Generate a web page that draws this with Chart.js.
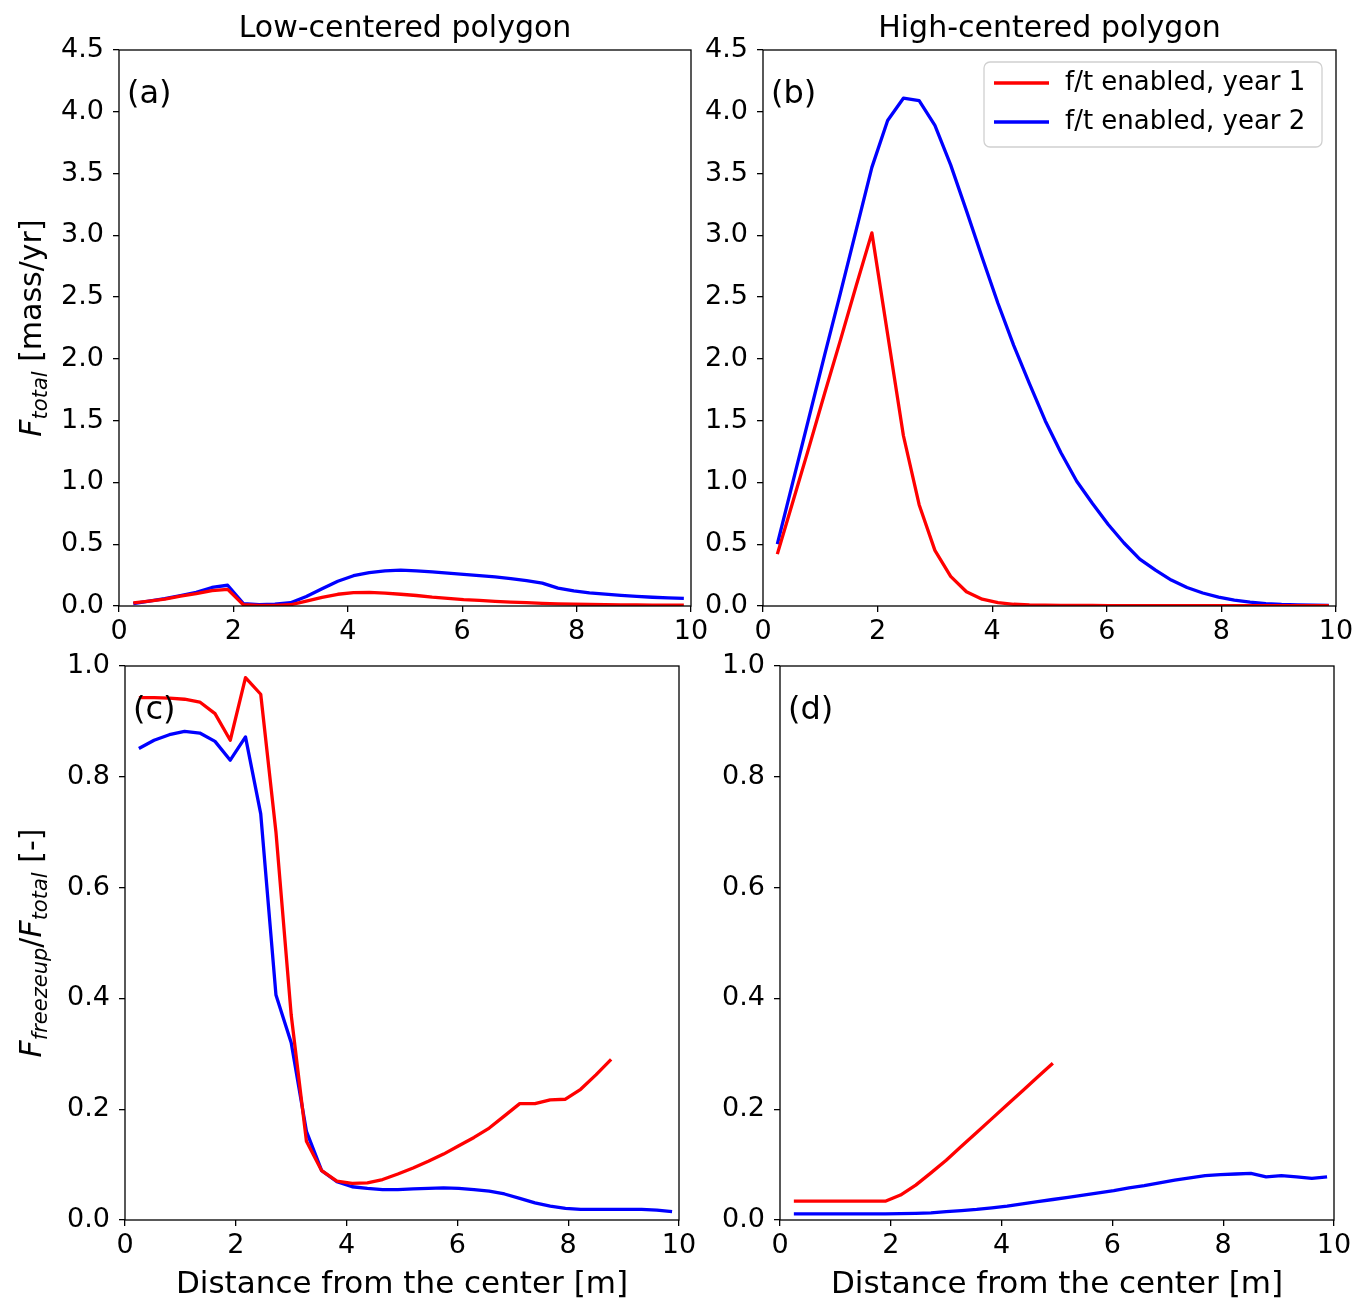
<!DOCTYPE html>
<html>
<head>
<meta charset="utf-8">
<script src="https://cdn.jsdelivr.net/npm/chart.js@4.4.1/dist/chart.umd.min.js"></script>
<style>
  body { margin: 0; background: #fff; }
  #wrap { position: relative; width: 1365px; height: 1313px; }
  #wrap canvas { position: absolute; left: 0; top: 0; }
</style>
</head>
<body>
<div id="wrap">
  <canvas id="panelA" width="1365" height="1313"></canvas>
  <canvas id="panelB" width="1365" height="1313"></canvas>
  <canvas id="panelC" width="1365" height="1313"></canvas>
  <canvas id="panelD" width="1365" height="1313"></canvas>
</div>
<script>
// distance from the polygon center [m]
const distance = [0.25, 0.525, 0.8, 1.075, 1.35, 1.625, 1.9, 2.175, 2.45, 2.725,
  3.0, 3.275, 3.55, 3.825, 4.1, 4.375, 4.65, 4.925, 5.2, 5.475,
  5.75, 6.025, 6.3, 6.575, 6.85, 7.125, 7.4, 7.675, 7.95, 8.225,
  8.5, 8.775, 9.05, 9.325, 9.6, 9.875];

// F_total [mass/yr]
const lowFluxYear1 = [0.025, 0.04, 0.055, 0.08, 0.10, 0.125, 0.135, 0.01, 0.005, 0.005,
  0.01, 0.04, 0.07, 0.095, 0.108, 0.11, 0.105, 0.095, 0.085, 0.072,
  0.062, 0.052, 0.045, 0.038, 0.032, 0.027, 0.022, 0.018, 0.015, 0.012,
  0.010, 0.009, 0.008, 0.007, 0.006, 0.006];
const lowFluxYear2 = [0.02, 0.04, 0.06, 0.085, 0.11, 0.15, 0.168, 0.02, 0.01, 0.015,
  0.027, 0.077, 0.14, 0.2, 0.245, 0.27, 0.285, 0.29, 0.285, 0.276,
  0.266, 0.256, 0.246, 0.235, 0.222, 0.205, 0.185, 0.145, 0.122, 0.107,
  0.096, 0.086, 0.078, 0.071, 0.066, 0.062];
const highFluxYear1 = [0.42, 0.85, 1.28, 1.72, 2.15, 2.59, 3.02, 2.2, 1.38, 0.82,
  0.45, 0.24, 0.115, 0.055, 0.028, 0.014, 0.008, 0.006, 0.005, 0.004,
  0.004, 0.003, 0.003, 0.003, 0.003, 0.003, 0.003, 0.003, 0.003, 0.003,
  0.003, 0.003, 0.003, 0.003, 0.003, 0.003];
const highFluxYear2 = [0.50, 1.01, 1.52, 2.03, 2.53, 3.04, 3.55, 3.93, 4.11, 4.09,
  3.89, 3.57, 3.2, 2.82, 2.45, 2.11, 1.8, 1.5, 1.24, 1.01,
  0.83, 0.66, 0.51, 0.38, 0.29, 0.21, 0.15, 0.105, 0.072, 0.047,
  0.031, 0.02, 0.013, 0.009, 0.006, 0.005];

// F_freezeup / F_total [-]
const lowFracYear1 = [0.943, 0.943, 0.942, 0.94, 0.935, 0.914, 0.866, 0.979, 0.949, 0.70,
  0.37, 0.142, 0.089, 0.07, 0.066, 0.067, 0.073, 0.083, 0.094, 0.106,
  0.119, 0.134, 0.149, 0.166, 0.188, 0.21, 0.21, 0.217, 0.218, 0.236,
  0.262, 0.29];
const lowFracYear2 = [0.851, 0.866, 0.876, 0.882, 0.879, 0.864, 0.83, 0.872, 0.733, 0.406,
  0.32, 0.16, 0.089, 0.069, 0.06, 0.057, 0.055, 0.055, 0.056, 0.057,
  0.058, 0.057, 0.055, 0.052, 0.047, 0.039, 0.031, 0.025, 0.021, 0.019,
  0.019, 0.019, 0.019, 0.019, 0.018, 0.015];
const highFracYear1 = [0.034, 0.034, 0.034, 0.034, 0.034, 0.034, 0.034, 0.045, 0.063, 0.085,
  0.108, 0.133, 0.158, 0.183, 0.208, 0.233, 0.258, 0.283];
const highFracYear2 = [0.011, 0.011, 0.011, 0.011, 0.011, 0.011, 0.011, 0.0115, 0.012, 0.013,
  0.015, 0.017, 0.019, 0.022, 0.025, 0.029, 0.033, 0.037, 0.041, 0.045,
  0.049, 0.053, 0.058, 0.062, 0.067, 0.072, 0.076, 0.08, 0.082, 0.083,
  0.084, 0.078, 0.08, 0.078, 0.075, 0.078];

const seriesLabels = ['f/t enabled, year 1', 'f/t enabled, year 2'];
const seriesColors = ['#ff0000', '#0000ff'];
const xTicks = [0, 2, 4, 6, 8, 10];
const fluxTicks = [0, 0.5, 1.0, 1.5, 2.0, 2.5, 3.0, 3.5, 4.0, 4.5];
const fracTicks = [0, 0.2, 0.4, 0.6, 0.8, 1.0];

const FONT = '"DejaVu Sans", sans-serif';
const PAGE_W = 1365, PAGE_H = 1313;
const Y_AXIS_W = 100;

// zip x with y (shorter series just stop early)
function toPoints(ys) {
  return ys.map((y, i) => ({ x: distance[i], y: y }));
}

// frame + labels drawn on top of the chart
const panelDecor = {
  id: 'panelDecor',
  afterDraw(chart, args, o) {
    const ctx = chart.ctx;
    const a = chart.chartArea;
    ctx.save();
    // spines
    ctx.strokeStyle = '#000';
    ctx.lineWidth = 1.3;
    ctx.strokeRect(a.left, a.top, a.right - a.left, a.bottom - a.top);
    ctx.fillStyle = '#000';

    // title above plot
    if (o.title) {
      ctx.font = '30px ' + FONT;
      ctx.textAlign = 'center';
      ctx.textBaseline = 'alphabetic';
      ctx.fillText(o.title, (a.left + a.right) / 2, a.top - 13);
    }

    // (a), (b) ...
    ctx.font = '32px ' + FONT;
    ctx.textAlign = 'left';
    ctx.textBaseline = 'alphabetic';
    ctx.fillText(o.tag, a.left + 8, a.top + 53);

    // y label with italic subscripts
    if (o.yLabel) {
      const cx = 31, cy = (a.top + a.bottom) / 2;
      ctx.translate(cx, cy);
      ctx.rotate(-Math.PI / 2);
      let total = 0;
      o.yLabel.forEach(p => { ctx.font = p.font; total += ctx.measureText(p.t).width; });
      let x = -total / 2;
      o.yLabel.forEach(p => {
        ctx.font = p.font;
        ctx.fillText(p.t, x, 10 + (p.dy || 0));
        x += ctx.measureText(p.t).width;
      });
      ctx.setTransform(1, 0, 0, 1, 0, 0);
    }

    // legend box (panel b)
    if (o.legend) {
      const bx = a.right - 352, by = a.top + 12, bw = 338, bh = 85;
      ctx.beginPath();
      ctx.roundRect(bx, by, bw, bh, 6);
      ctx.fillStyle = 'rgba(255,255,255,0.8)';
      ctx.fill();
      ctx.strokeStyle = '#d0d0d0';
      ctx.lineWidth = 1.3;
      ctx.stroke();
      ctx.font = '26px ' + FONT;
      ctx.textBaseline = 'middle';
      chart.data.datasets.forEach((ds, i) => {
        const ry = by + 21 + i * 39;
        ctx.strokeStyle = ds.borderColor;
        ctx.lineWidth = 3.3;
        ctx.beginPath();
        ctx.moveTo(bx + 10, ry);
        ctx.lineTo(bx + 65, ry);
        ctx.stroke();
        ctx.fillStyle = '#000';
        ctx.fillText(ds.label, bx + 81, ry);
      });
    }
    ctx.restore();
  }
};

function makePanel(id, p) {
  const xH = p.xTitle ? 84 : 40;
  new Chart(document.getElementById(id), {
    type: 'line',
    data: {
      datasets: p.series.map((s, i) => ({
        label: seriesLabels[i],
        data: toPoints(s),
        borderColor: seriesColors[i],
        backgroundColor: seriesColors[i],
        borderWidth: 3.3,
        pointRadius: 0,
        tension: 0,
        fill: false,
        borderJoinStyle: 'round'
      }))
    },
    options: {
      responsive: false,
      animation: false,
      devicePixelRatio: 1,
      layout: {
        padding: {
          left: p.box.left - Y_AXIS_W,
          right: PAGE_W - p.box.right,
          top: p.box.top,
          bottom: PAGE_H - p.box.bottom - xH
        }
      },
      plugins: {
        legend: { display: false },
        tooltip: { enabled: false },
        panelDecor: p.decor
      },
      scales: {
        x: {
          type: 'linear',
          min: 0, max: 10,
          afterBuildTicks: s => { s.ticks = xTicks.map(v => ({ value: v })); },
          afterFit: s => { s.height = xH; },
          ticks: {
            font: { family: FONT, size: 27 }, color: '#000', padding: 4,
            maxRotation: 0, autoSkip: false,
            callback: v => String(v)
          },
          grid: { drawOnChartArea: false, drawTicks: true, tickLength: 6, color: '#000', lineWidth: 1.3 },
          border: { display: false },
          title: {
            display: !!p.xTitle,
            text: 'Distance from the center [m]',
            font: { family: FONT, size: 31 }, color: '#000',
            padding: { top: 0, bottom: 0 }
          }
        },
        y: {
          type: 'linear',
          min: 0, max: p.yMax,
          afterBuildTicks: s => { s.ticks = p.yTicks.map(v => ({ value: v })); },
          afterFit: s => { s.width = Y_AXIS_W; },
          ticks: {
            font: { family: FONT, size: 27 }, color: '#000', padding: 9,
            autoSkip: false,
            callback: v => v.toFixed(1)
          },
          grid: { drawOnChartArea: false, drawTicks: true, tickLength: 6, color: '#000', lineWidth: 1.3 },
          border: { display: false }
        }
      }
    },
    plugins: [panelDecor]
  });
}

const fluxLabel = [
  { t: 'F', font: 'italic 30px ' + FONT },
  { t: 'total', font: 'italic 21px ' + FONT, dy: 6 },
  { t: ' [mass/yr]', font: '30px ' + FONT }
];
const fracLabel = [
  { t: 'F', font: 'italic 30px ' + FONT },
  { t: 'freezeup', font: 'italic 21px ' + FONT, dy: 6 },
  { t: '/', font: '30px ' + FONT },
  { t: 'F', font: 'italic 30px ' + FONT },
  { t: 'total', font: 'italic 21px ' + FONT, dy: 6 },
  { t: ' [-]', font: '30px ' + FONT }
];

makePanel('panelA', {
  box: { left: 119, right: 691, top: 50, bottom: 606 },
  yMax: 4.5, yTicks: fluxTicks,
  series: [lowFluxYear1, lowFluxYear2],
  decor: { title: 'Low-centered polygon', tag: '(a)', yLabel: fluxLabel }
});
makePanel('panelB', {
  box: { left: 763, right: 1336, top: 50, bottom: 606 },
  yMax: 4.5, yTicks: fluxTicks,
  series: [highFluxYear1, highFluxYear2],
  decor: { title: 'High-centered polygon', tag: '(b)', legend: true }
});
makePanel('panelC', {
  box: { left: 125, right: 679, top: 666, bottom: 1220 },
  yMax: 1.0, yTicks: fracTicks, xTitle: true,
  series: [lowFracYear1, lowFracYear2],
  decor: { tag: '(c)', yLabel: fracLabel }
});
makePanel('panelD', {
  box: { left: 780, right: 1334, top: 666, bottom: 1220 },
  yMax: 1.0, yTicks: fracTicks, xTitle: true,
  series: [highFracYear1, highFracYear2],
  decor: { tag: '(d)' }
});
</script>
</body>
</html>
